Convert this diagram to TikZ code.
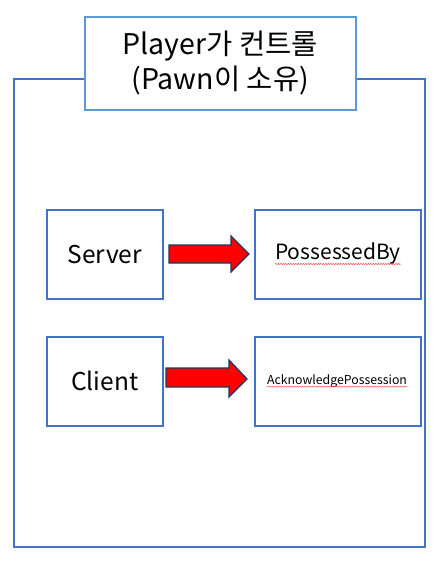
\documentclass[tikz,border=0pt]{standalone}
\usepackage{fontspec}
\setmainfont{Noto Sans CJK KR}
\usetikzlibrary{decorations.pathmorphing}
\definecolor{outerblue}{HTML}{4472C4}
\definecolor{titleblue}{HTML}{5B9BD5}
\definecolor{arrowedge}{HTML}{203864}
\tikzset{
  box/.style={draw=outerblue, line width=1.5pt, fill=white},
  bigarrow/.style={draw=arrowedge, line width=1.3pt, fill=red, line join=miter},
  squiggle/.style={draw=red!70, line width=0.5pt, decorate, decoration={snake, amplitude=0.6pt, segment length=2.5pt}}
}
\begin{document}
\begin{tikzpicture}[x=1pt,y=-1pt]
\useasboundingbox (0,0) rectangle (436,562);
\fill[white] (0,0) rectangle (436,562);
% outer frame
\draw[box] (14,79) rectangle (425,547);
% title
\node[draw=titleblue, line width=1.5pt, fill=white, minimum width=271pt, minimum height=93pt, inner sep=0pt, anchor=north west, align=center, font=\fontsize{28.5}{35}\selectfont] (title) at (84,16) {Player가 컨트롤\\(Pawn이 소유)};
% boxes
\node[box, minimum width=116pt, minimum height=89pt, anchor=north west, inner sep=0pt, font=\fontsize{24.5}{28}\selectfont] (server) at (46,209) {Server};
\node[box, minimum width=116pt, minimum height=89pt, anchor=north west, inner sep=0pt, font=\fontsize{24.5}{28}\selectfont] (client) at (46,336) {Client};
\node[box, minimum width=166pt, minimum height=89pt, anchor=north west, inner sep=0pt] (pb) at (254,209) {};
\node[box, minimum width=166pt, minimum height=89pt, anchor=north west, inner sep=0pt] (ap) at (254,336) {};
\node[font=\fontsize{21}{24}\selectfont, inner sep=0pt] (pbt) at (338,254) {PossessedBy};
\node[font=\fontsize{12.3}{14}\selectfont, inner sep=0pt] (apt) at (337,381) {AcknowledgePossession};
\draw[squiggle] ([yshift=1pt]pbt.south west) -- ([yshift=1pt]pbt.south east);
\draw[squiggle] ([yshift=1pt]apt.south west) -- ([yshift=1pt]apt.south east);
% arrows
\draw[bigarrow] (169,245) -- (231,245) -- (231,236) -- (249,254) -- (231,272) -- (231,263) -- (169,263) -- cycle;
\draw[bigarrow] (166,368) -- (229,368) -- (229,360) -- (247,379) -- (229,397) -- (229,387) -- (166,387) -- cycle;
\end{tikzpicture}
\end{document}
